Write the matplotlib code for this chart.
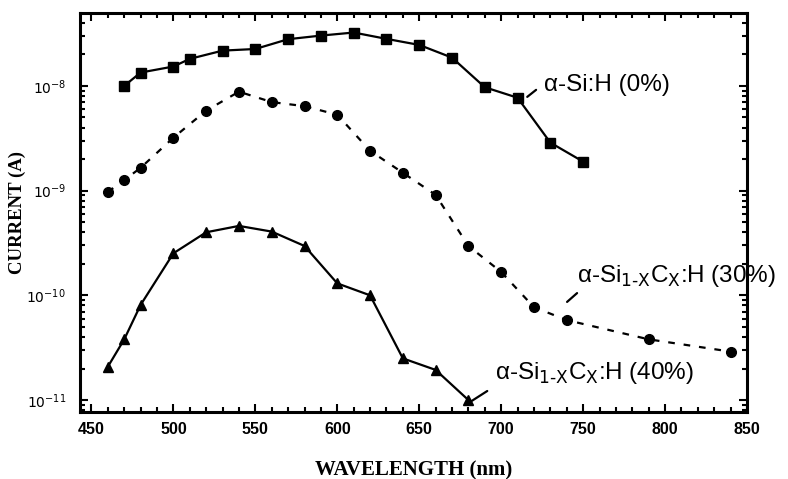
import numpy as np
import matplotlib
matplotlib.use('Agg')
import matplotlib.pyplot as plt
from matplotlib.ticker import LogLocator, MultipleLocator, FixedLocator

# данные
wl_0 = [470, 480, 500, 510, 530, 550, 570, 590, 610, 630, 650, 670, 690, 710, 730, 750]
cur_0 = [1.0e-8, 1.34e-8, 1.53e-8, 1.81e-8, 2.17e-8, 2.25e-8, 2.79e-8, 3.02e-8,
         3.23e-8, 2.81e-8, 2.46e-8, 1.86e-8, 9.7e-9, 7.7e-9, 2.87e-9, 1.89e-9]

wl_30 = [460, 470, 480, 500, 520, 540, 560, 580, 600, 620, 640, 660, 680, 700,
         720, 740, 790, 840]
cur_30 = [9.7e-10, 1.26e-9, 1.65e-9, 3.2e-9, 5.8e-9, 8.8e-9, 7.0e-9, 6.4e-9,
          5.3e-9, 2.4e-9, 1.48e-9, 9.1e-10, 2.96e-10, 1.67e-10, 7.7e-11,
          5.8e-11, 3.8e-11, 2.9e-11]

wl_40 = [460, 470, 480, 500, 520, 540, 560, 580, 600, 620, 640, 660, 680]
cur_40 = [2.08e-11, 3.8e-11, 8.1e-11, 2.52e-10, 4.0e-10, 4.6e-10, 4.06e-10,
          2.96e-10, 1.3e-10, 1.0e-10, 2.5e-11, 1.94e-11, 1.0e-11]

y_ticks = [1e-11, 1e-10, 1e-9, 1e-8]
y_ticklabels = ['10$^{-11}$', '10$^{-10}$', '10$^{-9}$', '10$^{-8}$']

fig = plt.figure(figsize=(7.88, 4.79), dpi=100)
ax = fig.add_axes([0.1015, 0.140, 0.8465, 0.833])

ax.plot(wl_0, cur_0, '-', color='black', lw=1.6, marker='s', ms=7)
ax.plot(wl_30, cur_30, color='black', lw=1.6, ls=(0, (3, 4)), marker='o', ms=7)
ax.plot(wl_40, cur_40, '-', color='black', lw=1.6, marker='^', ms=7.5)

ax.set_yscale('log')
ax.set_xlim(443, 850)
ax.set_ylim(7.7e-12, 4.97e-8)

# оси и деления
ax.xaxis.set_major_locator(MultipleLocator(50))
ax.xaxis.set_minor_locator(MultipleLocator(10))
ax.yaxis.set_major_locator(FixedLocator(y_ticks))
ax.yaxis.set_minor_locator(LogLocator(base=10, subs=np.arange(2, 10)))
ax.tick_params(which='both', direction='in', top=True, right=True, width=1.5)
ax.tick_params(which='major', length=6, pad=7)
ax.tick_params(axis='y', which='major', pad=10)
ax.tick_params(which='minor', length=3.5)
for s in ax.spines.values():
    s.set_linewidth(2.2)

ax.set_xticklabels([str(int(v)) for v in ax.get_xticks()],
                   fontfamily='Liberation Sans', fontweight='bold', fontsize=11.5)
ax.set_yticks(y_ticks)
ax.set_yticklabels(y_ticklabels, fontsize=10)

ax.set_xlabel('WAVELENGTH (nm)', fontfamily='Liberation Serif', fontweight='bold',
              fontsize=15, labelpad=17)
ax.set_ylabel('CURRENT (A)', fontfamily='Liberation Serif', fontweight='bold',
              fontsize=13.5, labelpad=0)

# подписи кривых и выноски
lbl = dict(fontfamily='Liberation Sans', fontsize=17.5, color='black', va='baseline')
seg = dict(arrowstyle='-', lw=1.6, color='black', shrinkA=0, shrinkB=0)
sic = 'α-Si$_{\\mathrm{1\u2010X}}$C$_{\\mathrm{X}}$:H'

ax.annotate('', xy=(715.9, 7.85e-9), xytext=(721.3, 9.16e-9), arrowprops=seg)
ax.text(726, 8.96e-9, 'α-Si:H (0%)', **lbl)

ax.annotate('', xy=(740.2, 8.65e-11), xytext=(746.3, 1.05e-10), arrowprops=seg)
ax.text(746.3, 1.34e-10, sic + ' (30%)', **lbl)

ax.annotate('', xy=(681.1, 9.6e-12), xytext=(691.5, 1.22e-11), arrowprops=seg)
ax.text(696.3, 1.59e-11, sic + ' (40%)', **lbl)

fig.savefig('out.png', dpi=100)
